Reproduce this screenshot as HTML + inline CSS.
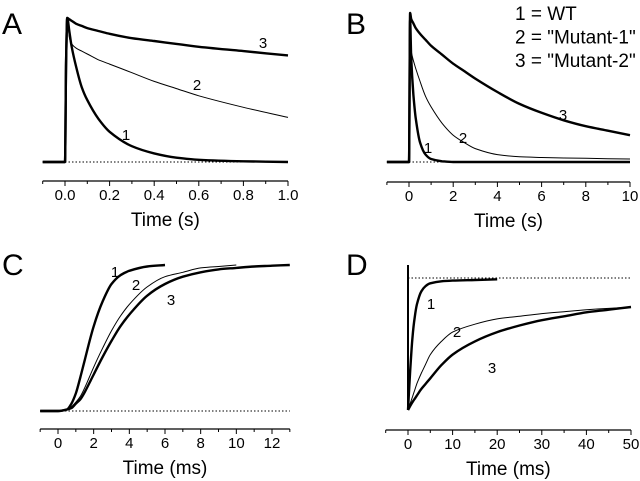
<!DOCTYPE html>
<html><head><meta charset="utf-8"><style>
body{margin:0;background:#fff;}
svg{display:block;font-family:"Liberation Sans",Arial,sans-serif;}
</style></head><body>
<svg id="c" width="640" height="481" viewBox="0 0 640 481"></svg>
<script>
// Panel A data (time s, normalized amplitude)
const tA=[-0.1,0,0.005,0.01,0.02,0.03,0.05,0.075,0.1,0.15,0.2,0.3,0.4,0.5,0.6,0.8,1.0];
const a1=[0,0,0.7,1,0.9,0.8,0.66,0.52,0.43,0.3,0.21,0.11,0.06,0.03,0.015,0.005,0];
const a2=[0,0,0.7,1,0.86,0.82,0.79,0.77,0.75,0.71,0.68,0.62,0.56,0.51,0.46,0.38,0.31];
const a3=[0,0,0.7,1,0.99,0.98,0.96,0.945,0.93,0.91,0.89,0.86,0.84,0.82,0.8,0.77,0.74];
const ticksA=["0.0","0.2","0.4","0.6","0.8","1.0"];
// Panel B data (time s)
const tB=[-1,0,0.05,0.1,0.2,0.3,0.5,0.75,1,1.5,2,2.5,3,4,5,6,7,8,9,10];
const b1=[0,0,0.95,0.7,0.45,0.3,0.13,0.05,0.02,0.005,0,0,0,0,0,0,0,0,0,0];
const b2=[0,0,0.77,0.74,0.68,0.63,0.54,0.44,0.37,0.26,0.18,0.13,0.09,0.05,0.035,0.03,0.027,0.025,0.022,0.02];
const b3=[0,0,1,0.96,0.93,0.9,0.86,0.82,0.78,0.72,0.66,0.61,0.56,0.47,0.39,0.33,0.28,0.24,0.21,0.18];
const ticksB=["0","2","4","6","8","10"];
// Panel C data (time ms)
const tC=[-1,0,0.5,0.75,1,1.25,1.5,2,2.5,3,3.5,4,5,6,7,8,9,10,11,12,13];
const c1=[0,0,0.01,0.05,0.12,0.23,0.35,0.58,0.75,0.87,0.93,0.96,0.99,1,null,null,null,null,null,null,null];
const c2=[0,0,0.01,0.03,0.06,0.1,0.16,0.3,0.43,0.55,0.65,0.73,0.85,0.92,0.95,0.98,0.99,1.0,null,null,null];
const c3=[0,0,0.01,0.02,0.05,0.08,0.13,0.25,0.37,0.48,0.58,0.66,0.79,0.87,0.92,0.95,0.97,0.98,0.99,0.995,1.0];
const ticksC=["0","2","4","6","8","10","12"];
// Panel D data (time ms)
const tD=[0,0.5,1,1.5,2,3,4,5,7.5,10,15,20,25,30,35,40,45,50];
const d1=[0,0.3,0.55,0.7,0.8,0.9,0.94,0.96,0.975,0.98,0.985,0.99,null,null,null,null,null,null];
const d2=[0,0.05,0.1,0.15,0.2,0.28,0.35,0.42,0.52,0.59,0.65,0.69,0.71,0.73,0.745,0.76,0.77,0.78];
const d3=[0,0.03,0.06,0.085,0.11,0.16,0.2,0.24,0.34,0.42,0.52,0.59,0.64,0.68,0.71,0.74,0.76,0.78];
const ticksD=["0","10","20","30","40","50"];

const NS="http://www.w3.org/2000/svg";
const svg=document.getElementById('c');
function mk(tag,attrs,parent){const e=document.createElementNS(NS,tag);for(const k in attrs)e.setAttribute(k,attrs[k]);(parent||svg).appendChild(e);return e;}
function txt(x,y,s,size,anchor,parent){const e=mk('text',{x:x,y:y,'font-size':size,'text-anchor':anchor||'middle',fill:'#000'},parent);e.textContent=s;return e;}

function monoPath(P){
  const n=P.length; if(n<2)return '';
  const dx=[],dy=[],m=[];
  for(let i=0;i<n-1;i++){dx.push(P[i+1][0]-P[i][0]);dy.push(P[i+1][1]-P[i][1]);m.push(dx[i]>1e-6?dy[i]/dx[i]:null);}
  const t=new Array(n).fill(0);
  for(let i=0;i<n;i++){
    const a=i>0?m[i-1]:null,b=i<n-1?m[i]:null;
    if(a===null||b===null){t[i]=(i===0&&b!==null)?b:((i===n-1&&a!==null)?a:0);continue;}
    t[i]=(a*b<=0)?0:2/(1/a+1/b);
  }
  let d='M'+P[0][0].toFixed(1)+','+P[0][1].toFixed(1);
  for(let i=0;i<n-1;i++){
    if(m[i]===null){d+='L'+P[i+1][0].toFixed(1)+','+P[i+1][1].toFixed(1);continue;}
    const h=dx[i]/3;
    const t0=(i>0&&m[i-1]===null)?m[i]:t[i];
    const t1=(i<n-2&&m[i+1]===null)?m[i]:t[i+1];
    d+='C'+(P[i][0]+h).toFixed(1)+','+(P[i][1]+h*t0).toFixed(1)+' '+(P[i+1][0]-h).toFixed(1)+','+(P[i+1][1]-h*t1).toFixed(1)+' '+P[i+1][0].toFixed(1)+','+P[i+1][1].toFixed(1);
  }
  return d;
}

function panel(o){
  const g=mk('g',{});
  
  
  const sx=v=>o.x0+(v-o.v0)*(o.x1-o.x0)/(o.v1-o.v0);
  const sy=v=>o.yb-v*(o.yb-o.yt);
  const L=txt(o.lx,o.ly,o.letter,30,'start',g);
  
  
  const ax=mk('line',{x1:sx(o.amin),x2:sx(o.amax),y1:o.ay,y2:o.ay,stroke:'#000','stroke-width':1.3},g);
  
  
  const step=(o.v1-o.v0)/(o.ticks.length-1);
  for(let v=o.amin;v<=o.amax+1e-9;v+=step/2){
    const major=Math.abs(Math.round((v-o.v0)/step*2)%2)===0;
    mk('line',{x1:sx(v),x2:sx(v),y1:o.ay,y2:o.ay+(major?5:3),stroke:'#000','stroke-width':1},g);
  }
  o.ticks.forEach((s,i)=>{const t=txt(sx(o.v0+i*step),o.ay+19,s,15,'middle',g);
    
    });
  const tt=txt((sx(o.amin)+sx(o.amax))/2,o.ay+45,o.title,19,'middle',g);
  
  
  const dl=mk('line',{x1:sx(o.dot[0]),x2:sx(o.dot[1]),y1:sy(o.dot[2]),y2:sy(o.dot[2]),stroke:'#000','stroke-width':1,'stroke-dasharray':'1.5,2'},g);
  
  
  o.series.forEach((s,k)=>{
    const P=[];s.y.forEach((v,i)=>{if(v===null)return;P.push([sx(s.t[i]),sy(v)]);});
    const p=mk('path',{d:monoPath(P),fill:'none',stroke:'#000','stroke-width':s.w,'stroke-linejoin':'round'},g);
    
    
    const l=txt(s.lab[0],s.lab[1],String(k+1),15,'middle',g);
    
    
  });
  return {g,sx,sy};
}
panel({letter:'A',lx:2,ly:34,x0:65,x1:288,v0:0,v1:1,amin:-0.1,amax:1,ay:181,yb:162,yt:18,
  ticks:ticksA,title:'Time (s)',dot:[0,1,0],
  series:[{t:tA,y:a1,w:2.4,lab:[126,140]},{t:tA,y:a2,w:1,lab:[197,90]},{t:tA,y:a3,w:2.4,lab:[263,48]}]});
panel({letter:'B',lx:346,ly:34,x0:409,x1:630,v0:0,v1:10,amin:-1,amax:10,ay:182,yb:162,yt:13,
  ticks:ticksB,title:'Time (s)',dot:[0,10,0],
  series:[{t:tB,y:b1,w:2.4,lab:[428,153]},{t:tB,y:b2,w:1,lab:[463,143]},{t:tB,y:b3,w:2.4,lab:[563,120]}]});
panel({letter:'C',lx:2,ly:275,x0:58,x1:272,v0:0,v1:12,amin:-1,amax:13,ay:429,yb:411,yt:265,
  ticks:ticksC,title:'Time (ms)',dot:[0,13,0],
  series:[{t:tC,y:c1,w:2.4,lab:[115,277]},{t:tC,y:c2,w:1,lab:[136,290]},{t:tC,y:c3,w:2.4,lab:[171,305]}]});
const pd=panel({letter:'D',lx:346,ly:275,x0:408,x1:631,v0:0,v1:50,amin:-5,amax:50,ay:430,yb:410,yt:278,
  ticks:ticksD,title:'Time (ms)',dot:[0,50,1],
  series:[{t:tD,y:d1,w:2.4,lab:[431,309]},{t:tD,y:d2,w:1,lab:[457,337]},{t:tD,y:d3,w:2.4,lab:[492,373]}]});
const vl=mk('line',{x1:pd.sx(0),x2:pd.sx(0),y1:410,y2:265,stroke:'#000','stroke-width':2},pd.g);


const leg=mk('g',{});


['1 = WT','2 = "Mutant-1"','3 = "Mutant-2"'].forEach((s,i)=>{const t=txt(515,20+i*23.5,s,19,'start',leg);
  
  });
</script>
</body></html>
